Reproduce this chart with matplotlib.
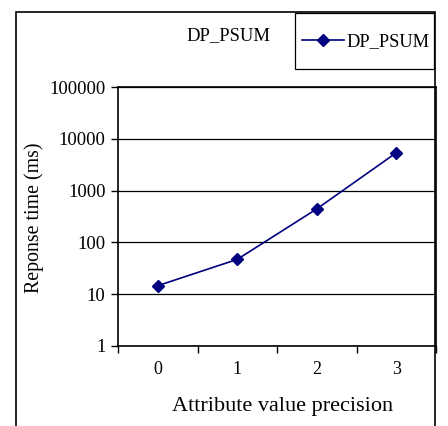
import matplotlib
matplotlib.use("Agg")
import matplotlib.pyplot as plt
from matplotlib.patches import Rectangle

precision = [0, 1, 2, 3]
response_ms = [14.6, 47, 443, 5370]
tick_labels = ["0", "1", "2", "3"]
y_ticks = [1, 10, 100, 1000, 10000, 100000]

plt.rcParams["font.family"] = ["Liberation Serif", "DejaVu Serif"]

W, H = 448, 426
fig = plt.figure(figsize=(W / 100, H / 100), dpi=100)

def px(x, y):
    # pixel position (from top-left) -> figure fraction
    return x / W, 1 - y / H

# outer chart frame (bottom edge runs off the picture)
fig.patches.append(Rectangle((16 / W, -0.05), (435 - 16) / W, 1.05 - 12 / H,
                             transform=fig.transFigure, fill=False,
                             edgecolor="black", linewidth=1.2))
# legend box
fig.patches.append(Rectangle(px(295, 69), (434 - 295) / W, (69 - 13) / H,
                             transform=fig.transFigure, fill=False,
                             edgecolor="black", linewidth=0.9))

ax = fig.add_axes([118 / W, 1 - 346 / H, (436 - 118) / W, (346 - 87) / H])
ax.plot(precision, response_ms, color="#000080", marker="D", markersize=6,
        linewidth=1.2, label="DP_PSUM")

ax.set_yscale("log")
ax.set_ylim(1, 100000)
ax.set_yticks(y_ticks)
ax.set_yticklabels([str(v) for v in y_ticks])
ax.minorticks_off()
ax.yaxis.grid(True, color="black", linewidth=0.9)

ax.set_xlim(-0.5, 3.5)
ax.set_xticks([-0.5, 0.5, 1.5, 2.5, 3.5])
ax.set_xticklabels([])
ax.set_xticks(precision, minor=True)
ax.set_xticklabels(tick_labels, minor=True)
ax.tick_params(axis="x", which="major", direction="out", length=5, width=1)
ax.tick_params(axis="x", which="minor", length=0, pad=11, labelsize=13)
ax.tick_params(axis="y", direction="out", length=5, width=1, labelsize=13.5, pad=4)

for s in ax.spines.values():
    s.set_linewidth(1.2)

ax.set_xlabel("Attribute value precision", fontsize=16)
ax.xaxis.set_label_coords((283 - 118) / 318, -0.198)
fig.text(*px(34, 218), "Reponse time (ms)", fontsize=14.3, rotation=90,
         ha="center", va="center")

fig.text(*px(228, 36), "DP_PSUM", fontsize=13.4, ha="center", va="center")

leg = fig.legend(loc="center", bbox_to_anchor=px(366, 41.5),
                 frameon=False, fontsize=13.2,
                 handlelength=2.3, handletextpad=0.15,
                 borderpad=0, borderaxespad=0)

fig.savefig("out.png", dpi=100)
